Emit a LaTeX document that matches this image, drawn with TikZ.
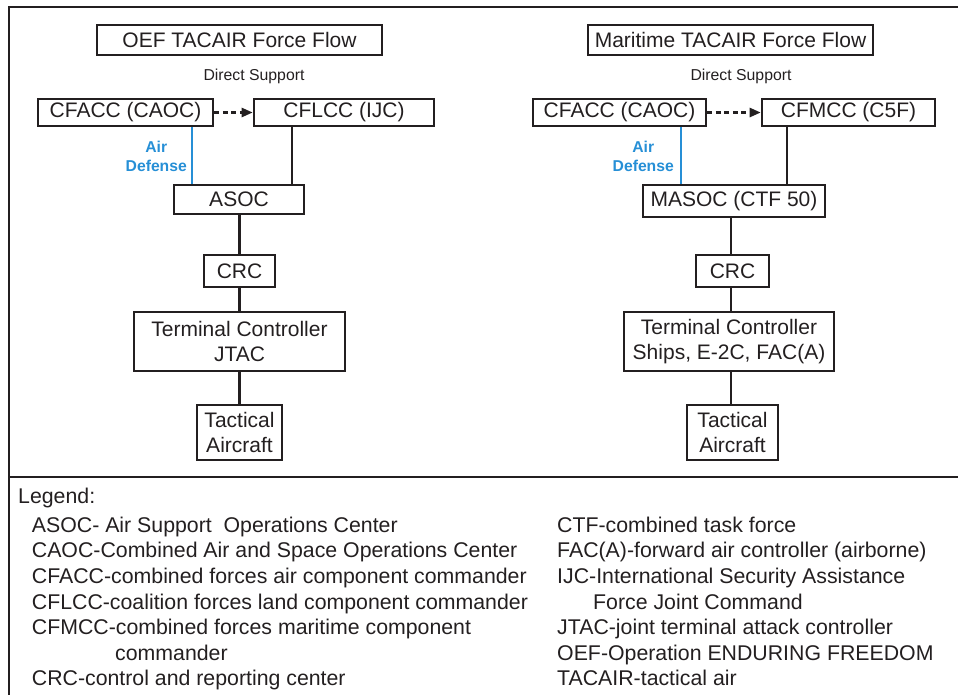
\documentclass[tikz,border=0pt]{standalone}
\usepackage{fontspec}
\setmainfont{Liberation Sans}
\usetikzlibrary{arrows.meta}
\definecolor{ink}{RGB}{35,31,32}
\definecolor{adblue}{RGB}{38,143,214}
\begin{document}
\begin{tikzpicture}[x=1pt,y=-1pt,
  box/.style={draw=ink, line width=2.6pt, inner sep=0pt, align=center, text=ink,
    font=\fontsize{21}{25}\selectfont},
  conn/.style={draw=ink, line width=2.4pt},
  adline/.style={draw=adblue, line width=2.2pt},
  adlabel/.style={text=adblue, font=\fontsize{15.7}{19.3}\selectfont\bfseries,
    align=center, inner sep=0pt, anchor=east},
  small/.style={text=ink, font=\fontsize{15.8}{19}\selectfont, inner sep=0pt, anchor=base},
  leg/.style={text=ink, font=\fontsize{21.3}{25}\selectfont, inner sep=0pt, anchor=base west},
  frameline/.style={draw=ink, line width=2.7pt}]
\useasboundingbox (0,0) rectangle (958,694);

% frame
\coordinate (ftl) at (9,7);
\coordinate (ftr) at (960,7);
\coordinate (fbl) at (9,696);
\coordinate (dl) at (9,477);
\coordinate (dr) at (960,477);
\draw[frameline] (fbl) -- (ftl) -- (ftr);
\draw[frameline] (dl) -- (dr);

% ---------- left: OEF ----------
\node[box, minimum width=285pt, minimum height=30pt] (t1) at (239.5,40) {OEF TACAIR Force Flow};
\node[small] (ds1) at (254,80.5) {Direct Support};
\node[box, minimum width=175pt, minimum height=27pt] (cfacc1) at (125.5,112.5) {CFACC (CAOC)};
\node[box, minimum width=180pt, minimum height=27pt] (cflcc1) at (344,112.5) {CFLCC (IJC)};
\node[box, minimum width=130pt, minimum height=29pt] (asoc1) at (239,199.5) {ASOC};
\node[box, minimum width=71pt, minimum height=32pt] (crc1) at (239.5,271) {CRC};
\node[box, minimum width=211pt, minimum height=59pt] (tc1) at (239.5,341.5) {Terminal Controller\\JTAC};
\node[box, minimum width=85pt, minimum height=55pt] (ta1) at (239.5,432.5) {Tactical\\Aircraft};

\coordinate (bx1) at (192,0);
\coordinate (kx1) at (292,0);
\coordinate (vx1) at (239.3,0);
\draw[adline] (cfacc1.south -| bx1) -- (asoc1.north -| bx1);
\node[adlabel] (ad1) at (187,156.3) {Air\\Defense};
\draw[conn] (cflcc1.south -| kx1) -- (asoc1.north -| kx1);
\draw[conn, dash pattern=on 5pt off 3.5pt, -{Triangle[length=11pt,width=9pt]}] (cfacc1.east) -- (cflcc1.west);
\draw[conn] (asoc1.south -| vx1) -- (crc1.north -| vx1);
\draw[conn] (crc1.south -| vx1) -- (tc1.north -| vx1);
\draw[conn] (tc1.south -| vx1) -- (ta1.north -| vx1);

% ---------- right: Maritime ----------
\node[box, minimum width=285pt, minimum height=30pt] (t2) at (730.5,40) {Maritime TACAIR Force Flow};
\node[small] (ds2) at (741,80.5) {Direct Support};
\node[box, minimum width=173pt, minimum height=27pt] (cfacc2) at (619.5,112.5) {CFACC (CAOC)};
\node[box, minimum width=173pt, minimum height=27pt] (cfmcc2) at (848.5,112.5) {CFMCC (C5F)};
\node[box, minimum width=182pt, minimum height=32pt] (masoc2) at (734,201) {MASOC (CTF 50)};
\node[box, minimum width=73pt, minimum height=32pt] (crc2) at (732.5,271) {CRC};
\node[box, minimum width=210pt, minimum height=59pt] (tc2) at (729,341.5) {Terminal Controller\\Ships, E-2C, FAC(A)};
\node[box, minimum width=91pt, minimum height=55pt] (ta2) at (732.5,432.5) {Tactical\\Aircraft};

\coordinate (bx2) at (681,0);
\coordinate (kx2) at (787,0);
\coordinate (vx2) at (731,0);
\draw[adline] (cfacc2.south -| bx2) -- (masoc2.north -| bx2);
\node[adlabel] (ad2) at (674,156.3) {Air\\Defense};
\draw[conn] (cfmcc2.south -| kx2) -- (masoc2.north -| kx2);
\draw[conn, dash pattern=on 5pt off 3.5pt, -{Triangle[length=11pt,width=9pt]}] (cfacc2.east) -- (cfmcc2.west);
\draw[conn] (masoc2.south -| vx2) -- (crc2.north -| vx2);
\draw[conn] (crc2.south -| vx2) -- (tc2.north -| vx2);
\draw[conn] (tc2.south -| vx2) -- (ta2.north -| vx2);

% ---------- legend ----------
\node[leg] (lg) at (18,503.3) {Legend:};
\node[leg] (l0) at (31.7,532.3) {ASOC- Air Support~ Operations Center};
\node[leg] (l1) at (31.7,557.9) {CAOC-Combined Air and Space Operations Center};
\node[leg] (l2) at (31.7,583.5) {CFACC-combined forces air component commander};
\node[leg] (l3) at (31.7,609.1) {CFLCC-coalition forces land component commander};
\node[leg] (l4) at (31.7,634.7) {CFMCC-combined forces maritime component};
\node[leg] (l5) at (115,660.3) {commander};
\node[leg] (l6) at (31.7,685.9) {CRC-control and reporting center};
\node[leg] (r0) at (557,532.3) {CTF-combined task force};
\node[leg] (r1) at (557,557.9) {FAC(A)-forward air controller (airborne)};
\node[leg] (r2) at (557,583.5) {IJC-International Security Assistance};
\node[leg] (r3) at (593,609.1) {Force Joint Command};
\node[leg] (r4) at (557,634.7) {JTAC-joint terminal attack controller};
\node[leg] (r5) at (557,660.3) {OEF-Operation ENDURING FREEDOM};
\node[leg] (r6) at (557,685.9) {TACAIR-tactical air};
\end{tikzpicture}
\end{document}
